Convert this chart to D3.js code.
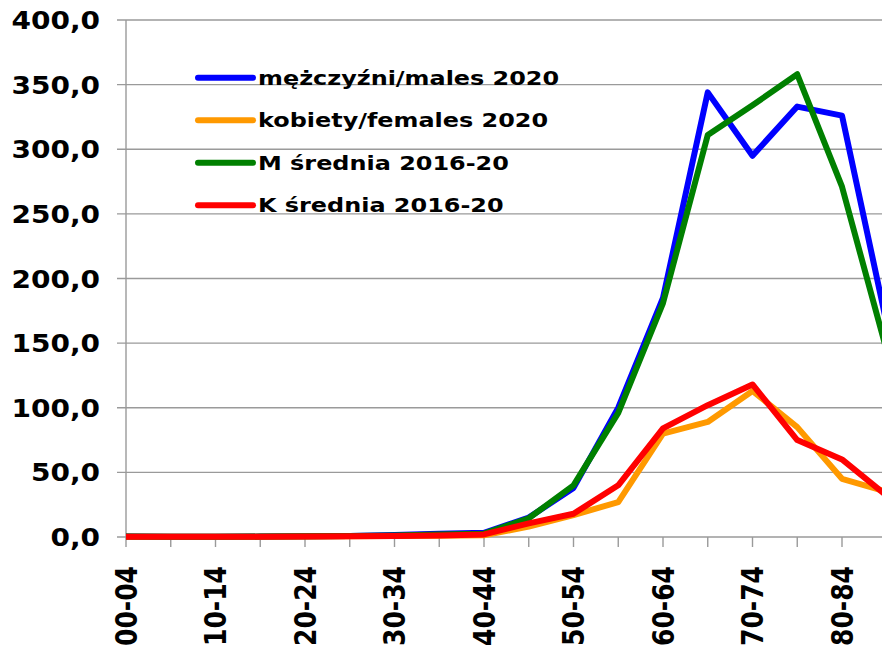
<!DOCTYPE html>
<html>
<head>
<meta charset="utf-8">
<script src="https://cdn.jsdelivr.net/npm/d3@7"></script>
<style>
  html, body { margin: 0; padding: 0; background: #fff; overflow: hidden; }
  text { font-family: "DejaVu Sans", Verdana, sans-serif; font-weight: bold; fill: #000; }
</style>
</head>
<body>
<svg id="chart" width="882" height="651"></svg>
<script>
// Age groups
const categories = ["00-04","05-09","10-14","15-19","20-24","25-29","30-34","35-39","40-44",
                    "45-49","50-54","55-59","60-64","65-69","70-74","75-79","80-84","85+"];
// Only every other age group gets a label
const labelledCategories = ["00-04","10-14","20-24","30-34","40-44","50-54","60-64","70-74","80-84"];

const males2020   = [0.3, 0.1, 0.2, 0.3, 0.5, 0.8, 1.5, 2.6, 3.2, 15, 38, 100, 185, 344, 295, 333, 326, 165];
const females2020 = [0.2, 0.1, 0.1, 0.2, 0.3, 0.5, 0.8, 1.0, 1.4, 8, 17, 27, 80, 89, 113, 85, 45, 35];
const mAvg1620    = [0.3, 0.1, 0.2, 0.3, 0.5, 0.7, 1.2, 2.0, 2.6, 14.5, 40, 96, 181, 311, 334, 358, 271, 144];
const kAvg1620    = [0.2, 0.1, 0.1, 0.2, 0.3, 0.5, 0.8, 1.2, 2.0, 10.5, 18, 40, 84, 102, 118, 75, 60, 32];

const seriesNames  = ["mężczyźni/males 2020", "kobiety/females 2020", "M średnia 2016-20", "K średnia 2016-20"];
const seriesColors = ["#0000FF", "#FF9900", "#008000", "#FF0000"];
const seriesValues = [males2020, females2020, mAvg1620, kAvg1620];

const yTicks = [0, 50, 100, 150, 200, 250, 300, 350, 400];

const svg = d3.select("#chart");
const axisStretch = 1.12;
const legendStretch = 1.22;
const fmt = v => d3.format(".1f")(v).replace(".", ",");

const x = d3.scalePoint().domain(categories).range([126, 886.75]);
const y = d3.scaleLinear().domain([0, 400]).range([537, 20]);

// Horizontal gridlines with short outer ticks
svg.append("g").selectAll("line").data(yTicks).join("line")
  .attr("x1", 117).attr("x2", 900)
  .attr("y1", d => y(d)).attr("y2", d => y(d))
  .attr("stroke", "#9a9a9a").attr("stroke-width", 1.4);

// Y axis line
svg.append("line")
  .attr("x1", x(categories[0])).attr("x2", x(categories[0]))
  .attr("y1", y(400)).attr("y2", y(0))
  .attr("stroke", "#9a9a9a").attr("stroke-width", 1.4);

// Category tick marks below the baseline
svg.append("g").selectAll("line").data(categories).join("line")
  .attr("x1", d => x(d)).attr("x2", d => x(d))
  .attr("y1", y(0)).attr("y2", y(0) + 10)
  .attr("stroke", "#9a9a9a").attr("stroke-width", 1.4);

// Y tick labels
svg.append("g").selectAll("text").data(yTicks).join("text")
  .attr("transform", d => `translate(100,${y(d) + 9}) scale(${axisStretch},1)`)
  .attr("text-anchor", "end")
  .attr("font-size", 25)
  .text(fmt);

// Rotated category labels
svg.append("g").selectAll("text").data(labelledCategories).join("text")
  .attr("transform", d => `translate(${x(d)},566) scale(${axisStretch + 0.06},1) rotate(-90)`)
  .attr("text-anchor", "end")
  .attr("dy", "0.36em")
  .attr("font-size", 25)
  .text(d => d);

// Series lines
const line = d3.line().x((d, i) => x(categories[i])).y(d => y(d));
svg.append("g").selectAll("path").data(seriesValues).join("path")
  .attr("d", line)
  .attr("fill", "none")
  .attr("stroke", (d, i) => seriesColors[i])
  .attr("stroke-width", 6)
  .attr("stroke-linejoin", "round");

// Legend
const legend = svg.append("g").selectAll("g").data(seriesNames).join("g")
  .attr("transform", (d, i) => `translate(198,${77.7 + i * 42.5})`);
legend.append("line")
  .attr("x1", 0).attr("x2", 55)
  .attr("stroke", (d, i) => seriesColors[i])
  .attr("stroke-width", 6)
  .attr("stroke-linecap", "round");
legend.append("text")
  .attr("transform", `translate(60,7) scale(${legendStretch},1)`)
  .attr("font-size", 19.6)
  .text(d => d);
</script>
</body>
</html>
